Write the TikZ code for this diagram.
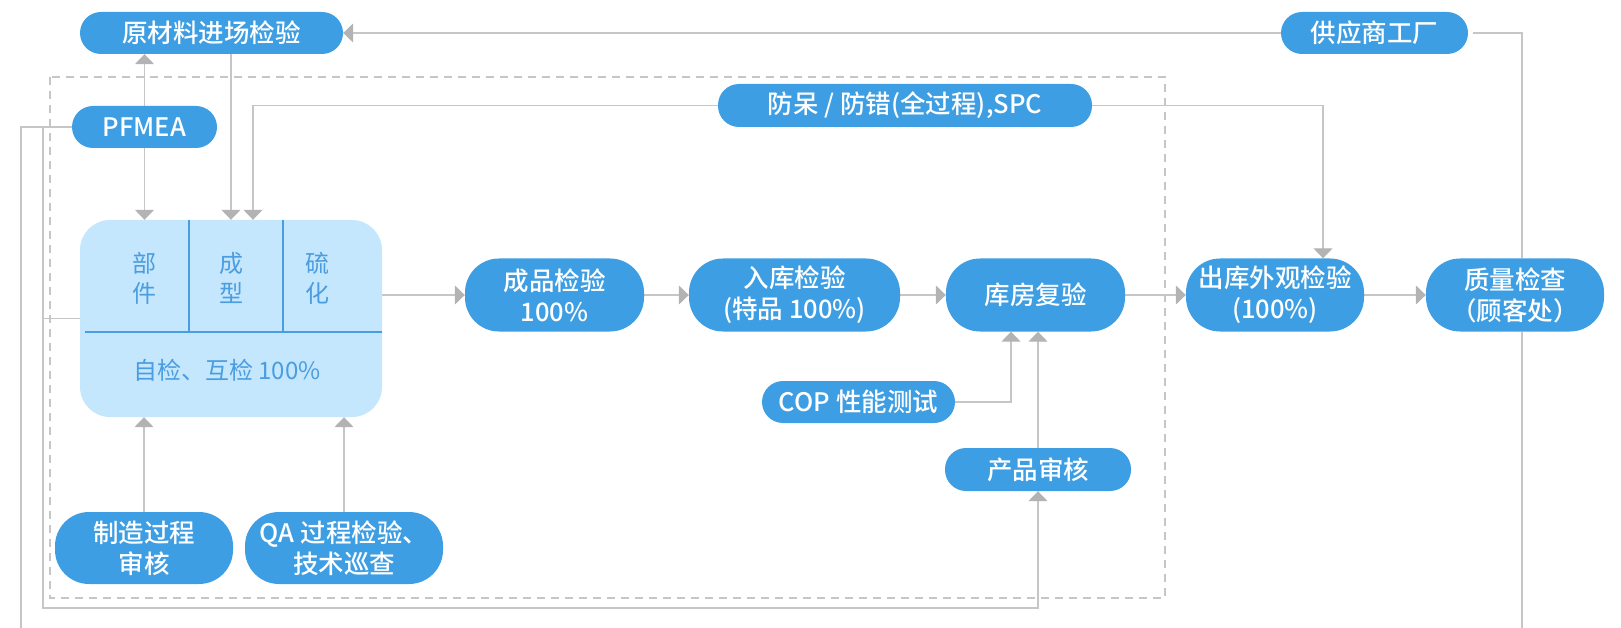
\documentclass[tikz,border=0pt]{standalone}
\usepackage{fontspec}
\setmainfont{Noto Sans CJK SC}[BoldFont={Noto Sans CJK SC Medium}]
\usetikzlibrary{arrows.meta}
\pgfdeclarelayer{background}
\pgfsetlayers{background,main}
\definecolor{nodeblue}{HTML}{3E9EE3}
\definecolor{paleblue}{HTML}{C4E7FD}
\definecolor{inkblue}{HTML}{4A9DE0}
\definecolor{wire}{HTML}{C6C6C6}
\definecolor{tipgray}{HTML}{B3B3B3}
\tikzset{
	pill/.style={fill=nodeblue, text=white, rounded corners=21pt, minimum height=42pt, inner sep=0pt, align=center, font=\fontsize{25.5}{31}\selectfont\bfseries},
	pilltwo/.style={pill, rounded corners=34pt, minimum height=73pt},
	wireonly/.style={draw=wire, line width=1.3pt},
	link/.style={wireonly, -{Triangle[width=19pt,length=10pt,color=tipgray]}},
	zone/.style={draw=wire, line width=1.2pt, dash pattern=on 8pt off 6pt},
	cellnote/.style={text=inkblue, align=center, font=\fontsize{24}{30}\selectfont}
}

\begin{document}
\begin{tikzpicture}[x=1pt,y=-1pt]
		\useasboundingbox (0,0) rectangle (1621,628);
		\draw[zone] (50,77) rectangle (1165,598);

		\node[pill, minimum width=263pt] (raw) at (211.5,33) {原材料进场检验};
		\node[pill, minimum width=187pt] (supplier) at (1374.5,33) {供应商工厂};
		\node[pill, minimum width=145pt] (pfmea) at (144.5,127) {PFMEA};
		\node[pill, minimum width=374pt, minimum height=43pt] (poka) at (905,105.5) {防呆 / 防错(全过程),SPC};

		\node[fill=paleblue, rounded corners=30pt, minimum width=302pt, minimum height=197pt, inner sep=0pt] (work) at (231,318.5) {};
		\draw[inkblue, line width=1.3pt] ([xshift=5pt]work.west |- 0,332) -- (work.east |- 0,332)
			(189,332) -- (189,220) (283,332) -- (283,220);
		\node[cellnote] (part) at (144,278) {部\\件};
		\node[cellnote] (mold) at (231,278) {成\\型};
		\node[cellnote] (cure) at (317,278) {硫\\化};
		\node[cellnote] (selfchk) at (227,370) {自检、互检 100\%};

		\node[pilltwo, minimum width=179pt] (finchk) at (554.5,295) {成品检验\\100\%};
		\node[pilltwo, minimum width=211pt] (instock) at (794.5,295) {入库检验\\(特品 100\%)};
		\node[pilltwo, minimum width=179pt] (recheck) at (1035.5,295) {库房复验};
		\node[pilltwo, minimum width=178pt] (outchk) at (1275,295) {出库外观检验\\(100\%)};
		\node[pilltwo, minimum width=178pt] (custchk) at (1515,295) {质量检查\\（顾客处）};

		\node[pill, minimum width=193pt] (cop) at (858.5,402) {COP 性能测试};
		\node[pill, minimum width=186pt, minimum height=43pt] (audit) at (1038,469.5) {产品审核};
		\node[pilltwo, minimum width=178pt, minimum height=72pt] (mfgaudit) at (144,548) {制造过程\\审核};
		\node[pilltwo, minimum width=198pt, minimum height=72pt] (qapatrol) at (344,548) {QA 过程检验、\\技术巡查};

		\coordinate (loopL) at (21,628);
		\coordinate (loopB) at (43,608);
		\coordinate (loopR) at (1522,628);

		\begin{pgfonlayer}{background}
		\path[link]
		(supplier) edge (raw)
		(pfmea.north) edge (pfmea.north |- raw.south)
		(pfmea.south) edge (pfmea.south |- work.north)
		(raw.south -| work.north) edge (work.north)
		(work.east |- finchk.west) edge (finchk.west)
		(finchk) edge (instock)
		(instock) edge (recheck)
		(recheck) edge (outchk)
		(outchk) edge (custchk)
		(mfgaudit.north) edge (mfgaudit.north |- work.south)
		(qapatrol.north) edge (qapatrol.north |- work.south)
		(audit.north) edge (audit.north |- recheck.south);

		\draw[link] (poka.west) -| ([xshift=22pt]work.north);
		\draw[link] (poka.east) -| ([xshift=48pt]outchk.north);
		\draw[link] (cop.east) -| ([xshift=-24.5pt]recheck.south);
		\draw[link] (pfmea.west -| loopB) -- (loopB) -| (audit.south);
		\draw[wireonly] (pfmea.west) -| (loopL);
		\draw[wireonly] (work.west) -- (work.west -| loopB);
		\draw[wireonly, shorten <=5pt] (supplier.east) -| (loopR |- custchk.north);
		\draw[wireonly] (loopR |- custchk.south) -- (loopR);
		\end{pgfonlayer}
	\end{tikzpicture}
\end{document}
